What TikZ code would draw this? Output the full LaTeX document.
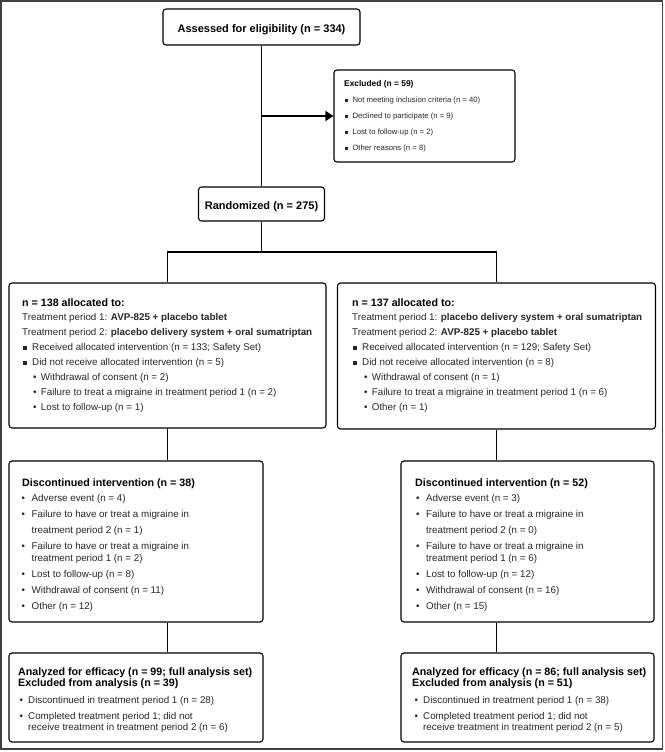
\documentclass[tikz,border=0pt]{standalone}
\usepackage{fontspec}
\setmainfont{Liberation Sans}
\usetikzlibrary{arrows.meta}

\definecolor{framegray}{HTML}{404040}
\definecolor{textgray}{HTML}{262626}

% list markers: square and dot, with the width up to the item text
\newcommand{\sqb}[1][9.3pt]{\makebox[#1][l]{\rule[0.3pt]{0.39em}{0.39em}}}
\newcommand{\dotb}[1][7.7pt]{\makebox[#1][l]{\textbullet}}

\tikzset{
  box/.style={draw, line width=1.1pt, rounded corners=3pt, inner sep=0pt},
  ttl/.style={font=\fontsize{11}{13}\selectfont\bfseries, text height=11.5pt, text depth=0pt},
  hd/.style={anchor=base west, inner sep=0pt, font=\fontsize{10.7}{12}\selectfont\bfseries},
  txt/.style={anchor=base west, inner sep=0pt, text=textgray, font=\fontsize{9.8}{11}\selectfont},
  exh/.style={anchor=base west, inner sep=0pt, font=\fontsize{8.4}{10}\selectfont\bfseries},
  ext/.style={anchor=base west, inner sep=0pt, text=textgray, font=\fontsize{7.7}{9}\selectfont},
  link/.style={line width=1.1pt}
}

\begin{document}
\begin{tikzpicture}[x=1pt, y=-1pt]
  \useasboundingbox (0,0) rectangle (664,752);

  % outer frame
  \draw[framegray, line width=1.6pt] (1,0.8) rectangle (662.5,749);

  % the boxes
  \node[box, ttl, minimum width=197pt, minimum height=36pt] (assess) at (261.5,27) {Assessed for eligibility (n = 334)};
  \node[box, minimum width=181pt, minimum height=92pt] (excl) at (424.5,116) {};
  \node[box, ttl, minimum width=126pt, minimum height=34pt] (rand) at (261.5,204) {Randomized (n = 275)};
  \node[box, minimum width=317pt, minimum height=145pt] (allocL) at (167.5,355.5) {};
  \node[box, minimum width=318pt, minimum height=146pt] (allocR) at (496.5,356) {};
  \node[box, minimum width=254pt, minimum height=161pt] (discL) at (136,541.5) {};
  \node[box, minimum width=253pt, minimum height=161pt] (discR) at (527.5,541.5) {};
  \node[box, minimum width=254pt, minimum height=89pt] (anaL) at (136,697.5) {};
  \node[box, minimum width=253pt, minimum height=89pt] (anaR) at (527.5,697.5) {};

  % excluded
  \node[exh] (ex0) at (344,86) {Excluded (n = 59)};
  \foreach \y/\lbl [count=\i] in {102/Not meeting inclusion criteria (n = 40),
      118.5/Declined to participate (n = 9), 134.5/Lost to follow-up (n = 2),
      150.5/Other reasons (n = 8)}
    \node[ext] (ex\i) at (345,\y) {\sqb[7.3pt]\lbl};

  % allocation, left arm
  \node[hd] (alL0) at (22,306) {n = 138 allocated to:};
  \node[txt] (alL1) at (22,320) {Treatment period 1: \textbf{AVP-825 + placebo tablet}};
  \node[txt] (alL2) at (22,335) {Treatment period 2: \textbf{placebo delivery system + oral sumatriptan}};
  \node[txt] (alL3) at (22.7,350) {\sqb Received allocated intervention (n = 133; Safety Set)};
  \node[txt] (alL4) at (22.7,365) {\sqb Did not receive allocated intervention (n = 5)};
  \node[txt] (alL5) at (33,380) {\dotb Withdrawal of consent (n = 2)};
  \node[txt] (alL6) at (33,395) {\dotb Failure to treat a migraine in treatment period 1 (n = 2)};
  \node[txt] (alL7) at (33,410) {\dotb Lost to follow-up (n = 1)};

  % allocation, right arm
  \node[hd] (alR0) at (352,306) {n = 137 allocated to:};
  \node[txt] (alR1) at (352,320) {Treatment period 1: \textbf{placebo delivery system + oral sumatriptan}};
  \node[txt] (alR2) at (352,335) {Treatment period 2: \textbf{AVP-825 + placebo tablet}};
  \node[txt] (alR3) at (352.7,350) {\sqb Received allocated intervention (n = 129; Safety Set)};
  \node[txt] (alR4) at (352.7,365) {\sqb Did not receive allocated intervention (n = 8)};
  \node[txt] (alR5) at (364,380) {\dotb Withdrawal of consent (n = 1)};
  \node[txt] (alR6) at (364,395) {\dotb Failure to treat a migraine in treatment period 1 (n = 6)};
  \node[txt] (alR7) at (364,410) {\dotb Other (n = 1)};

  % discontinued, both arms
  \foreach \s/\bx/\tx/\na/\nb/\nc/\nd/\ne/\nf/\ng in {L/21.5/22/38/4/1/2/8/11/12,
      R/416/415/52/3/0/6/12/16/15} {
    \node[hd] (dc\s0) at (\tx,486.5) {Discontinued intervention (n = \na)};
    \node[txt] (dc\s1) at (\bx,501.5) {\dotb[10pt]Adverse event (n = \nb)};
    \node[txt] (dc\s2) at (\bx,517) {\dotb[10pt]Failure to have or treat a migraine in};
    \node[txt] (dc\s3) at (\bx+10,533.5) {treatment period 2 (n = \nc)};
    \node[txt] (dc\s4) at (\bx,549.5) {\dotb[10pt]Failure to have or treat a migraine in};
    \node[txt] (dc\s5) at (\bx+10,561.5) {treatment period 1 (n = \nd)};
    \node[txt] (dc\s6) at (\bx,577.5) {\dotb[10pt]Lost to follow-up (n = \ne)};
    \node[txt] (dc\s7) at (\bx,593.5) {\dotb[10pt]Withdrawal of consent (n = \nf)};
    \node[txt] (dc\s8) at (\bx,609) {\dotb[10pt]Other (n = \ng)};
  }

  % analysis sets, both arms
  \foreach \s/\bx/\tx/\na/\nb/\nc/\nd in {L/19.5/18/99/39/28/6, R/414.5/412/86/51/38/5} {
    \node[hd] (an\s0) at (\tx,675) {Analyzed for efficacy (n = \na; full analysis set)};
    \node[hd] (an\s1) at (\tx,686) {Excluded from analysis (n = \nb)};
    \node[txt] (an\s2) at (\bx,703) {\dotb[8.5pt]Discontinued in treatment period 1 (n = \nc)};
    \node[txt] (an\s3) at (\bx,719) {\dotb[8.5pt]Completed treatment period 1; did not};
    \node[txt] (an\s4) at (\bx+8.5,730.5) {receive treatment in treatment period 2 (n = \nd)};
  }

  % connectors
  \coordinate (split) at (261.5,252);
  \draw[link] (assess) -- (rand);
  \draw[link, -{Triangle[length=8pt, width=10pt]}] (assess.south |- excl.west) -- (excl.west);
  \draw[link] (rand) -- (split);
  \draw[link] (allocL.north) |- (split) -| (allocR.north);
  \draw[link] (allocL.south) -- (allocL.south |- discL.north);
  \draw[link] (allocL.south |- discL.south) -- (allocL.south |- anaL.north);
  \draw[link] (allocR.south) -- (allocR.south |- discR.north);
  \draw[link] (allocR.south |- discR.south) -- (allocR.south |- anaR.north);
\end{tikzpicture}
\end{document}
